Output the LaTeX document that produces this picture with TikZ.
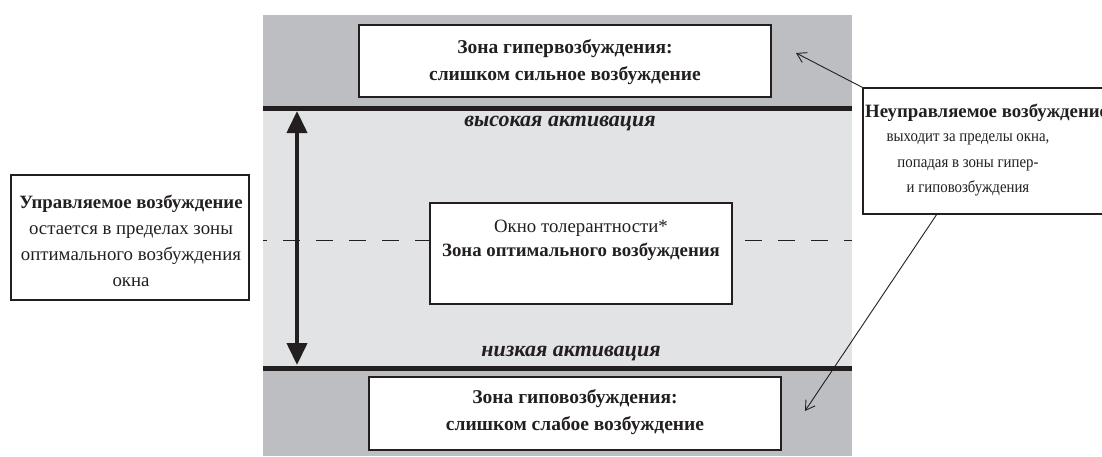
\documentclass[tikz,border=0pt]{standalone}
\usepackage{fontspec}
\setmainfont{Liberation Serif}
\newfontfamily\narrowserif[FakeStretch=0.9]{Liberation Serif}
\usetikzlibrary{arrows.meta}
\definecolor{zonedark}{RGB}{189,190,194}
\definecolor{zonelight}{RGB}{226,227,229}
\definecolor{ink}{RGB}{35,31,32}
\begin{document}
\begin{tikzpicture}[x=1pt,y=-1pt,
  box/.style={draw=ink, line width=1.2pt, fill=white, inner sep=0pt},
  txt/.style={font=\fontsize{18.8}{26}\selectfont, align=center, text=ink, inner sep=0pt},
  boldtxt/.style={txt, font=\fontsize{19.5}{27}\selectfont\bfseries},
  actlabel/.style={font=\fontsize{22}{24}\selectfont\bfseries\itshape, text=ink, inner sep=0pt},
  zoneline/.style={draw=ink, line width=5pt},
  bigarrow/.style={draw=ink, line width=4pt, {Triangle[length=22pt,width=20pt]}-{Triangle[length=22pt,width=20pt]}},
  leader/.style={draw=ink, line width=0.9pt, -{Straight Barb[length=9pt,width=11pt]}},
  midline/.style={draw=ink, line width=1pt, dash pattern=on 17pt off 16pt, dash phase=13pt}]
\useasboundingbox (0,0) rectangle (1102,456);
\clip (0,0) rectangle (1102,456);
% zones
\fill[zonedark] (263,15) rectangle (852,456);
\fill[zonelight] (263,108.5) rectangle (852,368);
\coordinate (tl) at (263,108.5); \coordinate (tr) at (852,108.5);
\coordinate (bl) at (263,368);   \coordinate (br) at (852,368);
\draw[zoneline] (tl) -- (tr);
\draw[zoneline] (bl) -- (br);
% dashed middle line
\coordinate (dl) at (263,240.5); \coordinate (dr) at (852,240.5);
\draw[midline] (dl) -- (dr);
% boxes
\node[box, minimum width=412pt, minimum height=72pt] (hyper) at (565,61) {};
\node[boldtxt] (hypertext) at (565,62) {Зона гипервозбуждения:\\слишком сильное возбуждение};
\node[box, minimum width=302pt, minimum height=101pt] (window) at (581,253.5) {};
\node[txt, font=\fontsize{18.8}{24}\selectfont] (windowtext) at (581,240) {Окно толерантности*\\\textbf{Зона оптимального возбуждения}};
\node[box, minimum width=412pt, minimum height=73pt] (hypo) at (575,413.5) {};
\node[boldtxt] (hypotext) at (575,412) {Зона гиповозбуждения:\\слишком слабое возбуждение};
\node[box, minimum width=238pt, minimum height=125pt] (left) at (130,237.5) {};
\node[txt] (lefttext) at (131,241) {\textbf{Управляемое возбуждение}\\остается в пределах зоны\\оптимального возбуждения\\окна};
\node[box, minimum width=257pt, minimum height=126pt] (right) at (991.5,151) {};
\node[txt, anchor=west] (righttitle) at (865,113) {\textbf{Неуправляемое возбуждение}};
\node[txt, font=\fontsize{16.5}{25.5}\narrowserif] (righttext) at (968,165) {выходит за пределы окна,\\попадая в зоны гипер-\\и гиповозбуждения};
% activation labels
\node[actlabel] (high) at (560,124) {высокая активация};
\node[actlabel] (low) at (571,353) {низкая активация};
% big double arrow
\coordinate (atop) at (297,111);
\coordinate (abot) at (297,365);
\draw[bigarrow] (atop) -- (abot);
% leaders
\coordinate (hyperpt) at (796,53);
\coordinate (hypopt) at (805,411);
\coordinate (rbot) at (937,214);
\draw[leader] (right.north west) -- (hyperpt);
\draw[leader] (rbot) -- (hypopt);
\end{tikzpicture}
\end{document}
